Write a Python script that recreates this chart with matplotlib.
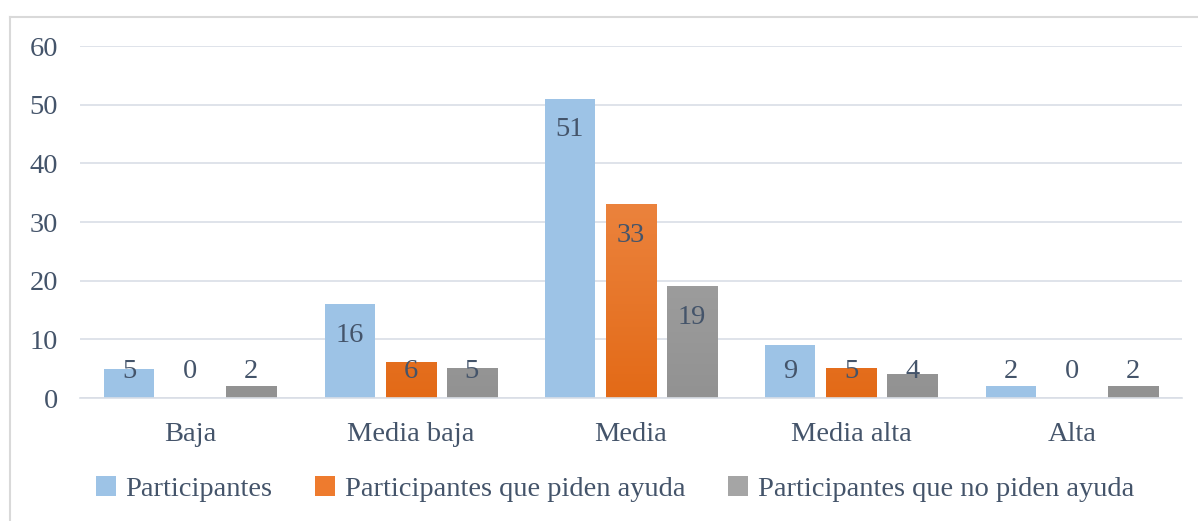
import matplotlib
matplotlib.use("Agg")
import matplotlib.pyplot as plt
import numpy as np
from matplotlib.lines import Line2D
from matplotlib.colors import LinearSegmentedColormap

categories = ["Baja", "Media baja", "Media", "Media alta", "Alta"]
series_names = ["Participantes", "Participantes que piden ayuda", "Participantes que no piden ayuda"]
participantes = [5, 16, 51, 9, 2]
piden_ayuda = [0, 6, 33, 5, 0]
no_piden_ayuda = [2, 5, 19, 4, 2]
yticks = [0, 10, 20, 30, 40, 50, 60]

TXT = "#44546A"
FS = 20.5
plt.rcParams['font.family'] = ['Liberation Serif', 'DejaVu Serif']

fig = plt.figure(figsize=(11.98, 5.21), dpi=100)
bx, by = 9.5/1198, 1 - 16.5/521
fig.lines.append(Line2D([bx, 1.01], [by, by], transform=fig.transFigure, color="#D9D9D9", linewidth=1.5))
fig.lines.append(Line2D([bx, bx], [by, -0.01], transform=fig.transFigure, color="#D9D9D9", linewidth=1.5))
ax = fig.add_axes([80/1198, 1 - 398/521, (1182 - 80)/1198, (398 - 46)/521])

x = np.arange(len(categories))
w = 0.227
off = 0.277
series = [participantes, piden_ayuda, no_piden_ayuda]
grads = [None, ("#F2975C", "#E36A17"), ("#B2B2B2", "#929292")]
solid = ["#9DC3E6", "#EE7B2E", "#A5A5A5"]

handles = []
for i, (vals, name) in enumerate(zip(series, series_names)):
    bars = ax.bar(x + (i - 1) * off, vals, w, color=solid[i], label=name, zorder=2)
    handles.append(bars)
    if grads[i] is not None:
        cmap = LinearSegmentedColormap.from_list("g%d" % i, [grads[i][1], grads[i][0]])
        for r in bars:
            h = r.get_height()
            if h <= 0:
                continue
            grad = np.linspace(0, 1, 256).reshape(-1, 1) * (h / 60.0)
            ax.imshow(grad, extent=[r.get_x(), r.get_x() + r.get_width(), 0, h],
                      origin="lower", aspect="auto", cmap=cmap, vmin=0, vmax=1, zorder=2.5)
    for xi, v in zip(x + (i - 1) * off, vals):
        ax.text(xi, max(v - 5.3, 4.6), str(v), ha="center", va="center",
                fontsize=FS, color=TXT, zorder=4)

ax.set_xlim(-0.5, len(categories) - 0.5)
ax.set_ylim(0, 60)
ax.set_yticks(yticks)
ax.set_yticklabels([str(t) for t in yticks], fontsize=FS, color=TXT)
ax.set_xticks(x)
ax.set_xticklabels(categories, fontsize=FS, color=TXT)
ax.tick_params(axis="y", length=0, pad=16)
ax.tick_params(axis="x", length=0, pad=17)
ax.grid(axis="y", color="#D9DEE6", linewidth=1.2, zorder=0)
ax.set_axisbelow(True)
for s in ["top", "right", "left"]:
    ax.spines[s].set_visible(False)
ax.spines["bottom"].set_color("#D9DEE6")
ax.spines["bottom"].set_linewidth(1.2)

leg = fig.legend(handles=handles, labels=series_names, loc="center", bbox_to_anchor=(615/1198, 1 - 489/521),
                 ncol=3, frameon=False, fontsize=FS, handlelength=0.7, handleheight=0.7,
                 handletextpad=0.35, columnspacing=1.5)
for t in leg.get_texts():
    t.set_color(TXT)

fig.savefig("out.png", dpi=100)
